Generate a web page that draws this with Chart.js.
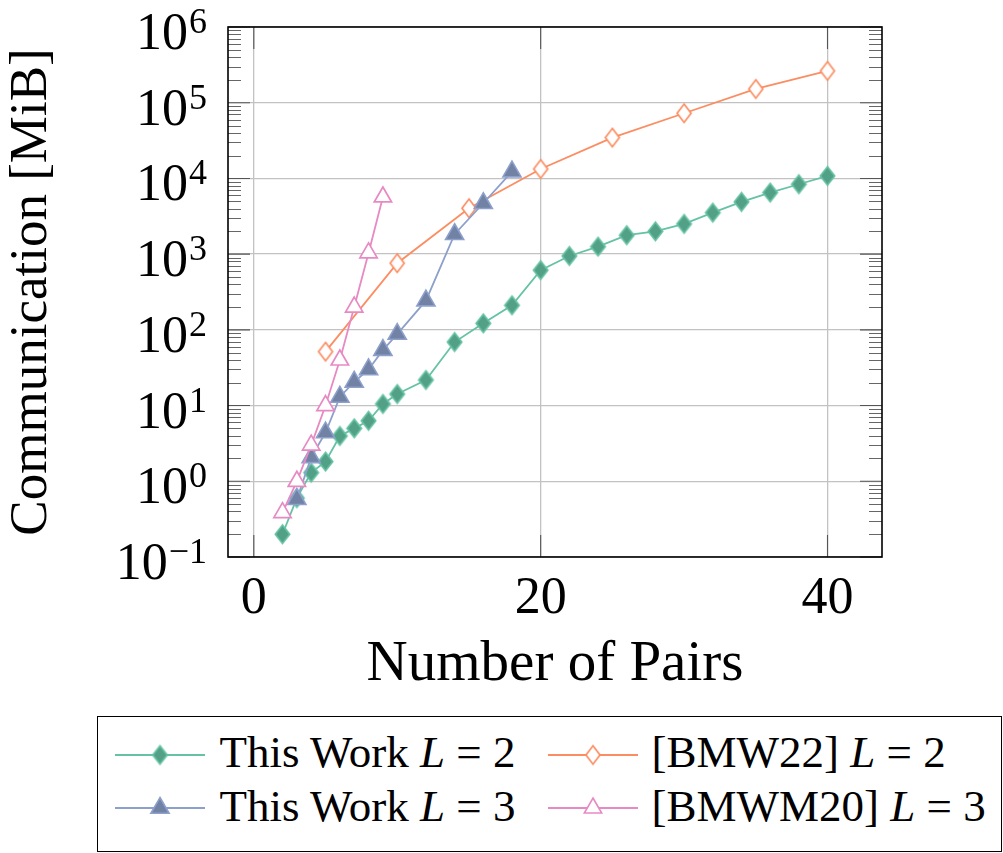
<!DOCTYPE html>
<html>
<head>
<meta charset="utf-8">
<script src="https://cdn.jsdelivr.net/npm/chart.js@4.4.1/dist/chart.umd.min.js"></script>
<style>
  html, body { margin: 0; padding: 0; background: #fff; }
  #wrap { position: relative; width: 1003px; height: 853px; overflow: hidden; }
  #chart { position: absolute; left: 0; top: 0; }
  #legend {
    position: absolute; left: 97px; top: 716px; width: 905px; height: 136px;
    border: 1.5px solid #000; box-sizing: border-box; background: #fff;
    font-family: "Liberation Serif", "DejaVu Serif", serif; font-size: 45px; color: #000;
  }
  #legend .txt { position: absolute; line-height: 45px; white-space: nowrap; }
  #legend canvas { position: absolute; }
</style>
</head>
<body>
<div id="wrap">
  <canvas id="chart" width="1003" height="853"></canvas>
  <div id="legend"></div>
</div>
<script>
// ---- data -------------------------------------------------------------
const xTicks = [0, 20, 40];
const yExponents = [-1, 0, 1, 2, 3, 4, 5, 6];

const workL2Pairs = [2, 3, 4, 5, 6, 7, 8, 9, 10, 12, 14, 16, 18, 20, 22, 24, 26, 28, 30, 32, 34, 36, 38, 40];
const workL2MiB   = [0.20, 0.60, 1.30, 1.82, 3.97, 5.0, 6.3, 10.5, 14.2, 21.8, 69, 122, 211, 615, 946, 1256, 1778, 2000, 2506, 3530, 4900, 6500, 8380, 10790];

const workL3Pairs = [3, 4, 5, 6, 7, 8, 9, 10, 12, 14, 16, 18];
const workL3MiB   = [0.58, 2.07, 4.4, 13, 20.5, 30, 54, 88, 243, 1832, 4700, 12300];

const bmw22Pairs = [5, 10, 15, 20, 25, 30, 35, 40];
const bmw22MiB   = [51.5, 760, 4040, 13340, 34600, 72600, 152000, 263000];

const bmwm20Pairs = [2, 3, 4, 5, 6, 7, 8, 9];
const bmwm20MiB   = [0.385, 1.0, 3.0, 10, 40, 200, 1037, 5690];

// ---- styling ------------------------------------------------------------
const FONT = '"Liberation Serif", "DejaVu Serif", serif';
const TICK_SIZE = 52, SUP_SIZE = 36;
const GREEN = '#66c2a5', GREEN_DARK = '#52a086';
const ORANGE = '#fc8d62';
const BLUE = '#8da0cb', BLUE_DARK = '#7182a4';
const PINK = '#e78ac3';
const GRID = '#c2c2c2', TICK = '#555555';
const LINE_W = 1.8;

function diamondMark(fill, stroke, hw, hh, lw) {
  const c = document.createElement('canvas');
  const W = Math.ceil(2 * hw + lw + 4), H = Math.ceil(2 * hh + lw + 4);
  c.width = W; c.height = H;
  const g = c.getContext('2d');
  const cx = W / 2, cy = H / 2;
  g.beginPath();
  g.moveTo(cx, cy - hh); g.lineTo(cx + hw, cy); g.lineTo(cx, cy + hh); g.lineTo(cx - hw, cy);
  g.closePath();
  g.fillStyle = fill; g.fill();
  g.lineWidth = lw; g.strokeStyle = stroke; g.lineJoin = 'miter'; g.stroke();
  return c;
}
const greenDiamond = diamondMark(GREEN_DARK, GREEN, 7.2, 9.2, 1.7);
const orangeDiamond = diamondMark('#ffffff', ORANGE, 7.0, 9.2, 1.7);

function pts(xs, ys) { return xs.map((x, i) => ({ x, y: ys[i] })); }

// ---- plugins: frame, inward ticks, log tick labels ------------------------
const frameAndTicks = {
  id: 'frameAndTicks',
  beforeDatasetsDraw(chart) {
    const { ctx, chartArea: a, scales: { x, y } } = chart;
    ctx.save();
    ctx.strokeStyle = TICK;
    // minor ticks on the log axis (left and right)
    ctx.lineWidth = 0.9;
    ctx.beginPath();
    for (let e = yExponents[0]; e < yExponents[yExponents.length - 1]; e++) {
      for (let m = 2; m <= 9; m++) {
        const py = Math.round(y.getPixelForValue(m * Math.pow(10, e))) + 0.5;
        ctx.moveTo(a.left, py); ctx.lineTo(a.left + 13, py);
        ctx.moveTo(a.right, py); ctx.lineTo(a.right - 13, py);
      }
    }
    ctx.stroke();
    // major ticks
    ctx.lineWidth = 1.1;
    ctx.beginPath();
    yExponents.forEach(e => {
      const py = y.getPixelForValue(Math.pow(10, e));
      ctx.moveTo(a.left, py); ctx.lineTo(a.left + 22, py);
      ctx.moveTo(a.right, py); ctx.lineTo(a.right - 22, py);
    });
    xTicks.forEach(v => {
      const px = x.getPixelForValue(v);
      ctx.moveTo(px, a.top); ctx.lineTo(px, a.top + 22);
      ctx.moveTo(px, a.bottom); ctx.lineTo(px, a.bottom - 22);
    });
    ctx.stroke();
    ctx.restore();
  },
  afterDraw(chart) {
    const { ctx, chartArea: a, scales: { y } } = chart;
    ctx.save();
    ctx.strokeStyle = '#000';
    ctx.lineWidth = 1.6;
    ctx.strokeRect(a.left, a.top, a.right - a.left, a.bottom - a.top);
    // y tick labels written as powers of ten
    ctx.fillStyle = '#000';
    ctx.textAlign = 'left';
    ctx.textBaseline = 'alphabetic';
    yExponents.forEach(e => {
      const py = y.getPixelForValue(Math.pow(10, e));
      const exp = e < 0 ? '\u2212' + Math.abs(e) : String(e);
      ctx.font = SUP_SIZE + 'px ' + FONT;
      const wExp = ctx.measureText(exp).width;
      ctx.font = TICK_SIZE + 'px ' + FONT;
      const wBase = ctx.measureText('10').width;
      const right = 207;
      const xb = right - wExp - 1 - wBase;
      ctx.fillText('10', xb, py + 22);
      ctx.font = SUP_SIZE + 'px ' + FONT;
      ctx.fillText(exp, xb + wBase + 1, py + 6);
    });
    ctx.restore();
  }
};

// ---- chart ---------------------------------------------------------------
const chart = new Chart(document.getElementById('chart'), {
  type: 'line',
  data: {
    datasets: [
      { label: 'This Work L = 2', data: pts(workL2Pairs, workL2MiB), order: 4,
        borderColor: GREEN, borderWidth: LINE_W, pointStyle: greenDiamond,
        backgroundColor: GREEN_DARK, pointBorderColor: GREEN },
      { label: '[BMW22] L = 2', data: pts(bmw22Pairs, bmw22MiB), order: 3,
        borderColor: ORANGE, borderWidth: LINE_W, pointStyle: orangeDiamond,
        backgroundColor: '#fff' },
      { label: 'This Work L = 3', data: pts(workL3Pairs, workL3MiB), order: 2,
        borderColor: BLUE, borderWidth: LINE_W, pointStyle: 'triangle', pointRadius: 10.5,
        pointBackgroundColor: BLUE_DARK, pointBorderColor: BLUE, pointBorderWidth: 1.6 },
      { label: '[BMWM20] L = 3', data: pts(bmwm20Pairs, bmwm20MiB), order: 1,
        borderColor: PINK, borderWidth: LINE_W, pointStyle: 'triangle', pointRadius: 10,
        pointBackgroundColor: '#fff', pointBorderColor: PINK, pointBorderWidth: 1.7 }
    ]
  },
  options: {
    responsive: false,
    animation: false,
    devicePixelRatio: 1,
    layout: { padding: { left: 0, top: 27, right: 121, bottom: 153 } },
    elements: { line: { tension: 0, fill: false } },
    plugins: { legend: { display: false }, tooltip: { enabled: false } },
    scales: {
      x: {
        type: 'linear', min: -1.8, max: 43.8,
        afterBuildTicks: s => { s.ticks = xTicks.map(v => ({ value: v })); },
        afterFit: s => { s.height = 143; },
        grid: { color: GRID, lineWidth: 1.3, drawTicks: false },
        border: { display: false },
        ticks: { color: '#000', padding: 16, maxRotation: 0, autoSkip: false,
                 font: { family: FONT, size: TICK_SIZE, lineHeight: 1 } },
        title: { display: true, text: 'Number of Pairs', color: '#000',
                 padding: { top: 0, bottom: 6.5 },
                 font: { family: FONT, size: 57, lineHeight: 1 } }
      },
      y: {
        type: 'logarithmic', min: 0.1, max: 1e6,
        afterBuildTicks: s => { s.ticks = yExponents.map(e => ({ value: Math.pow(10, e) })); },
        afterFit: s => { s.width = 228; },
        grid: { color: GRID, lineWidth: 1.3, drawTicks: false },
        border: { display: false },
        ticks: { display: false },
        title: { display: true, text: 'Communication [MiB]', color: '#000',
                 padding: { top: 6, bottom: 0 },
                 font: { family: FONT, size: 53, lineHeight: 1 } }
      }
    }
  },
  plugins: [frameAndTicks]
});

// ---- legend ----------------------------------------------------------------
const legendEntries = [
  { name: 'This Work', L: 2, kind: 'diamond', mark: greenDiamond, color: GREEN, col: 0, row: 0 },
  { name: '[BMW22]', L: 2, kind: 'diamond', mark: orangeDiamond, color: ORANGE, col: 1, row: 0 },
  { name: 'This Work', L: 3, kind: 'triangle', fill: BLUE_DARK, color: BLUE, r: 10.5, col: 0, row: 1 },
  { name: '[BMWM20]', L: 3, kind: 'triangle', fill: '#fff', color: PINK, r: 10, col: 1, row: 1 }
];
const legend = document.getElementById('legend');
const sampleLeft = [16.5, 449.5], textLeft = [121.5, 553.5];
const sampleTop = [22.5, 75.5], textTop = [12.8, 66.8];
legendEntries.forEach(en => {
  const c = document.createElement('canvas');
  c.width = 90; c.height = 30;
  c.style.left = sampleLeft[en.col] + 'px';
  c.style.top = sampleTop[en.row] + 'px';
  const g = c.getContext('2d');
  g.strokeStyle = en.color; g.lineWidth = LINE_W;
  g.beginPath(); g.moveTo(0, 15); g.lineTo(90, 15); g.stroke();
  if (en.kind === 'diamond') {
    g.drawImage(en.mark, 45 - en.mark.width / 2, 15 - en.mark.height / 2);
  } else {
    g.beginPath();
    for (let k = 0; k < 3; k++) {
      const ang = -Math.PI / 2 + k * 2 * Math.PI / 3;
      const px = 45 + Math.cos(ang) * en.r, py = 15 + Math.sin(ang) * en.r;
      if (k === 0) g.moveTo(px, py); else g.lineTo(px, py);
    }
    g.closePath();
    g.fillStyle = en.fill; g.fill();
    g.lineWidth = 1.6; g.strokeStyle = en.color; g.stroke();
  }
  legend.appendChild(c);
  const t = document.createElement('span');
  t.className = 'txt';
  t.style.left = textLeft[en.col] + 'px';
  t.style.top = textTop[en.row] + 'px';
  t.innerHTML = en.name + ' <i>L</i> = ' + en.L;
  legend.appendChild(t);
});
</script>
</body>
</html>
